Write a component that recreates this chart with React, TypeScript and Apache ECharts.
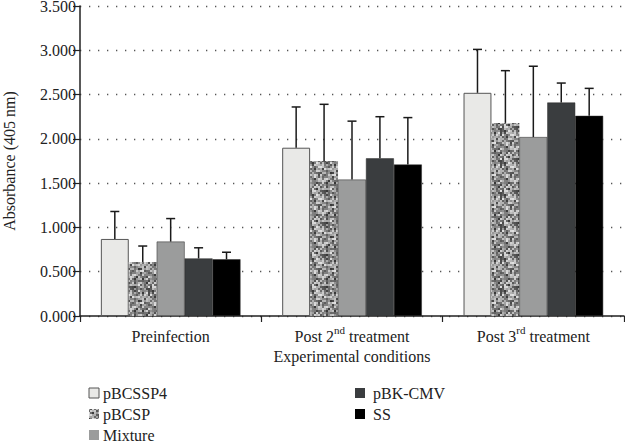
import React, { useEffect, useRef } from "react";
import * as echarts from "echarts";

const categories = ["Preinfection", "Post 2nd treatment", "Post 3rd treatment"];
const seriesNames = ["pBCSSP4", "pBCSP", "Mixture", "pBK-CMV", "SS"];
const pBCSSP4 = [0.87, 1.9, 2.52];
const pBCSP = [0.61, 1.75, 2.18];
const mixture = [0.84, 1.54, 2.02];
const pBKCMV = [0.65, 1.78, 2.41];
const ss = [0.64, 1.71, 2.26];
const pBCSSP4Err = [0.31, 0.46, 0.49];
const pBCSPErr = [0.18, 0.64, 0.59];
const mixtureErr = [0.26, 0.66, 0.8];
const pBKCMVErr = [0.12, 0.47, 0.22];
const ssErr = [0.08, 0.53, 0.31];
const yTicks = [0, 0.5, 1, 1.5, 2, 2.5, 3, 3.5];

const FONT = "'Liberation Serif', 'DejaVu Serif', serif";

function makeTexture(): HTMLCanvasElement {
  const c = document.createElement("canvas");
  c.width = 32;
  c.height = 32;
  const ctx = c.getContext("2d")!;
  let s = 12345;
  const next = () => {
    s = (s * 1103515245 + 12345) % 2147483648;
    return s / 2147483648;
  };
  for (let i = 0; i < 16; i++) {
    for (let j = 0; j < 16; j++) {
      const g = Math.round(55 + next() * 170);
      ctx.fillStyle = `rgb(${g},${g},${g})`;
      ctx.fillRect(i * 2, j * 2, 2, 2);
    }
  }
  return c;
}

export default function App() {
  const ref = useRef<HTMLDivElement>(null);
  useEffect(() => {
    if (!ref.current) return;
    const chart = echarts.init(ref.current, null, { renderer: "svg" });
    const tex = makeTexture();
    const values = [pBCSSP4, pBCSP, mixture, pBKCMV, ss];
    const errs = [pBCSSP4Err, pBCSPErr, mixtureErr, pBKCMVErr, ssErr];
    const colors: any[] = [
      "#e9e9e7",
      { image: tex, repeat: "repeat", imageWidth: 32, imageHeight: 32 },
      "#9b9c9c",
      "#3a3d3f",
      "#000000",
    ];
    const gapRatio = 0.23;
    const barSeries = seriesNames.map((name, i) => ({
      name,
      type: "bar",
      data: values[i],
      barGap: "0%",
      barCategoryGap: "23%",
      itemStyle: {
        color: colors[i],
        borderColor: i === 0 ? "#555" : "#2a2a2a",
        borderWidth: i === 0 ? 1 : i === 1 ? 0 : 0.5,
      },
      z: 2,
    }));
    const errSeries = seriesNames.map((name, i) => ({
      name: name + "_err",
      type: "custom",
      z: 3,
      data: values[i].map((v, k) => [k, v, errs[i][k]]),
      renderItem: (params: any, api: any) => {
        const cat = api.value(0);
        const v = api.value(1);
        const e = api.value(2);
        const base = api.coord([cat, v]);
        const top = api.coord([cat, v + e]);
        const band = api.size([1, 0])[0];
        const bw = (band * (1 - gapRatio)) / 5;
        const x = base[0] + (i - 2) * bw;
        const style = { stroke: "#1a1a1a", lineWidth: 1.5 };
        return {
          type: "group",
          children: [
            { type: "line", shape: { x1: x, y1: base[1], x2: x, y2: top[1] }, style },
            { type: "line", shape: { x1: x - 4.5, y1: top[1], x2: x + 4.5, y2: top[1] }, style },
          ],
        };
      },
    }));
    const legendPos = [
      { x: 89, y: 393, tx: 103 },
      { x: 89, y: 414, tx: 103 },
      { x: 89, y: 435, tx: 103 },
      { x: 355, y: 393, tx: 373 },
      { x: 355, y: 414, tx: 373 },
    ];
    const legendGraphics: any[] = [];
    seriesNames.forEach((name, i) => {
      const p = legendPos[i];
      legendGraphics.push({
        type: "rect",
        shape: { x: p.x, y: p.y - 5, width: 10, height: 10 },
        style: {
          fill: colors[i],
          stroke: i === 0 ? "#555" : null,
          lineWidth: i === 0 ? 1 : 0,
        },
      });
      legendGraphics.push({
        type: "text",
        x: p.tx,
        y: p.y,
        style: {
          text: name,
          fontFamily: FONT,
          fontSize: 16,
          fill: "#222",
          verticalAlign: "middle",
          align: "left",
        },
      });
    });
    chart.setOption({
      animation: false,
      backgroundColor: "#fff",
      textStyle: { fontFamily: FONT, fontWeight: "normal" },
      grid: { left: 80, right: 1, top: 6, bottom: 128, outerBoundsMode: "none", containLabel: false },
      graphic: legendGraphics,
      xAxis: {
        type: "category",
        data: categories,
        name: "Experimental conditions",
        nameLocation: "middle",
        nameGap: 31,
        nameTextStyle: { fontFamily: FONT, fontSize: 16, color: "#222" },
        axisLine: { lineStyle: { color: "#222", width: 1.5 } },
        axisTick: { show: true, length: 6, lineStyle: { color: "#222", width: 1.2 } },
        axisLabel: {
          interval: 0,
          margin: 8,
          formatter: (val: string) => {
            const m = val.match(/^(Post \d)(nd|rd)( treatment)$/);
            if (m) return `{a|${m[1]}}{s|${m[2]}}{a|${m[3]}}`;
            return `{a|${val}}`;
          },
          rich: {
            a: { fontFamily: FONT, fontSize: 16, color: "#222", lineHeight: 20, verticalAlign: "bottom" },
            s: { fontFamily: FONT, fontSize: 11, color: "#222", lineHeight: 11, verticalAlign: "top" },
          },
        },
      },
      yAxis: {
        type: "value",
        min: 0,
        max: 3.5,
        interval: 0.5,
        name: "Absorbance (405 nm)",
        nameLocation: "middle",
        nameGap: 63,
        nameTextStyle: { fontFamily: FONT, fontSize: 16, color: "#222" },
        axisLine: { show: true, lineStyle: { color: "#222", width: 1.5 } },
        axisTick: { show: true, length: 7, lineStyle: { color: "#222", width: 1.2 } },
        axisLabel: {
          margin: 4,
          fontFamily: FONT,
          fontSize: 16,
          color: "#222",
          formatter: (v: number) => (yTicks.includes(v) ? v.toFixed(3) : ""),
        },
        splitLine: { show: true, lineStyle: { color: "#555", width: 1.3, type: [1.3, 7.7] } },
      },
      series: [...barSeries, ...errSeries],
    });
    return () => chart.dispose();
  }, []);
  return (
    <div
      ref={ref}
      style={{ position: "fixed", left: 0, top: 0, width: 625, height: 444, background: "#fff" }}
    />
  );
}
